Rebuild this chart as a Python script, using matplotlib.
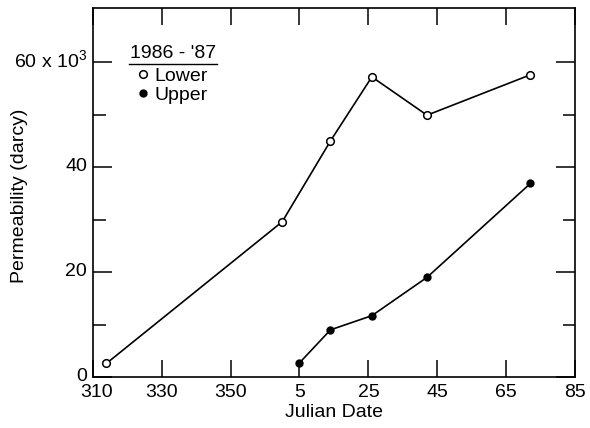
import matplotlib
matplotlib.use("Agg")
import matplotlib.pyplot as plt
from matplotlib.ticker import FixedLocator
from matplotlib.transforms import ScaledTranslation

plt.rcParams['font.family'] = ['Liberation Sans', 'DejaVu Sans']
plt.rcParams['mathtext.fontset'] = 'custom'
plt.rcParams['mathtext.rm'] = 'Liberation Sans'

# Julian dates on a continuous axis (days after 365 are shown as day-365)
lower_days = [314, 365, 379, 391, 407, 437]
lower_perm = [2.6, 29.6, 45.0, 57.2, 49.9, 57.6]
upper_days = [370, 379, 391, 407, 437]
upper_perm = [2.7, 9.0, 11.7, 19.0, 36.9]

xtick_pos = [310, 330, 350, 370, 390, 410, 430, 450]
xtick_labels = ['310', '330', '350', '5', '25', '45', '65', '85']
ytick_pos = [0, 20, 40, 60]
ytick_labels = ['0', '20', '40', '60 x 10$^\\mathregular{3}$']
yminor = [10, 30, 50]
legend_title = "1986 - '87"

FS = 14

fig = plt.figure(figsize=(5.9, 4.28), dpi=100)
ax = fig.add_axes([0.157, 0.119, 0.818, 0.862])

ax.plot(lower_days, lower_perm, color='black', lw=1.2, marker='o', ms=5.5,
        mfc='white', mec='black', mew=1.1, label='Lower')
ax.plot(upper_days, upper_perm, color='black', lw=1.2, marker='o', ms=5,
        mfc='black', mec='black', label='Upper')

ax.set_xlim(310, 450)
ax.set_ylim(0, 70.3)
ax.set_xticks(xtick_pos)
ax.set_xticklabels(xtick_labels)
ax.set_yticks(ytick_pos)
ax.set_yticklabels(ytick_labels)
ax.yaxis.set_minor_locator(FixedLocator(yminor))

ax.tick_params(axis='x', which='major', direction='in', top=True, bottom=True,
               length=12, width=1.1, labelsize=FS, pad=5)
ax.tick_params(axis='y', which='major', direction='in', left=True, right=True,
               length=14, width=1.1, labelsize=FS, pad=4)
ax.tick_params(axis='y', which='minor', direction='in', left=True, right=True,
               length=9, width=1.1)
for s in ax.spines.values():
    s.set_linewidth(1.2)

# small offsets so that "0" and "310" do not collide, as in the reference
for lab in ax.get_yticklabels():
    lab.set_transform(lab.get_transform() + ScaledTranslation(0, 3 / 100, fig.dpi_scale_trans))
first_x = ax.get_xticklabels()[0]
first_x.set_transform(first_x.get_transform() + ScaledTranslation(4 / 100, 0, fig.dpi_scale_trans))

ax.set_xlabel('Julian Date', fontsize=FS, labelpad=2)
ax.set_ylabel('Permeability (darcy)', fontsize=FS)
ax.yaxis.set_label_coords(-0.133, 0.49)

# legend title with underline
ax.text(0.078, 0.853, legend_title, transform=ax.transAxes, fontsize=FS,
        ha='left', va='bottom')
ax.plot([0.075, 0.257], [0.848, 0.848], transform=ax.transAxes,
        color='black', lw=1.0, clip_on=False)

leg = ax.legend(loc='upper left', bbox_to_anchor=(0.088, 0.845), frameon=False,
                fontsize=FS, handlelength=0.6, handletextpad=0.3,
                borderpad=0.1, borderaxespad=0.0, labelspacing=0.08)
for h in leg.legend_handles:
    h.set_linestyle('None')

fig.savefig('out.png', dpi=100)
